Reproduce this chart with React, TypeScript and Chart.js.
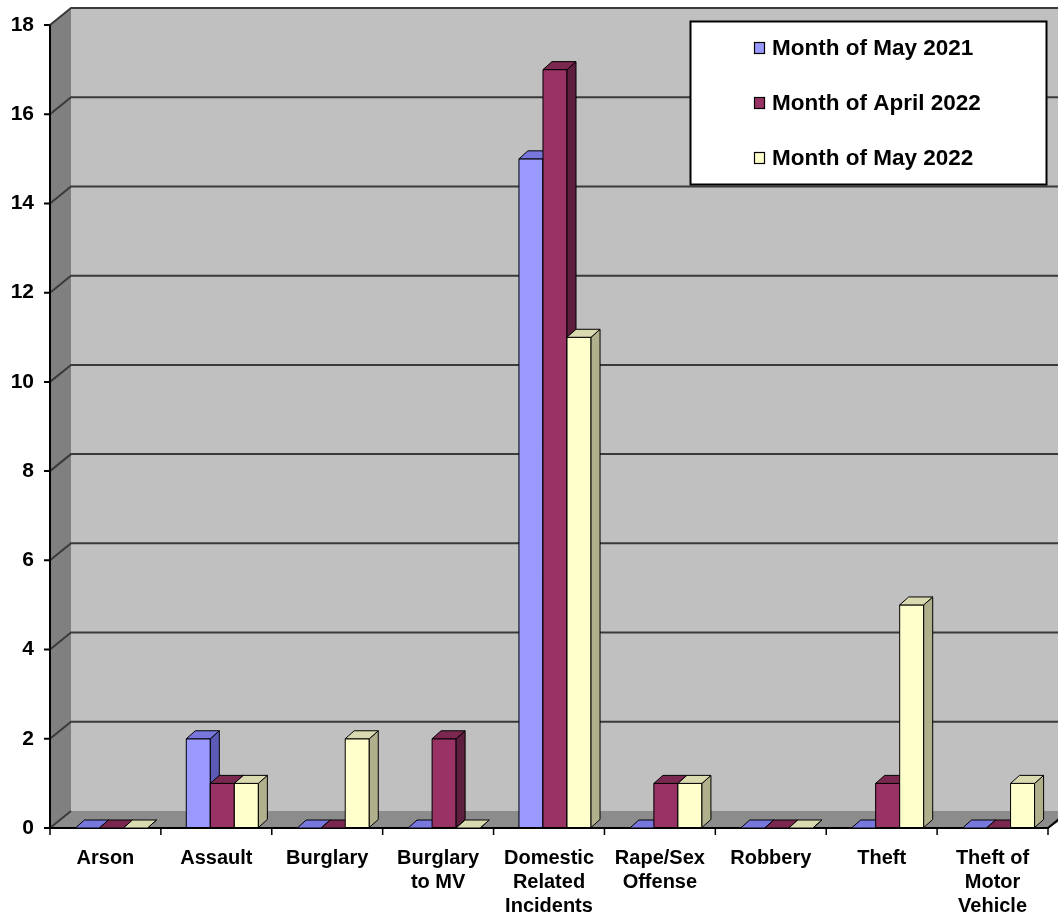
import React, { useEffect, useRef } from "react";
import { Chart, registerables } from "chart.js";

Chart.register(...registerables);

// ---- data ----
const categories: string[][] = [
  ["Arson"],
  ["Assault"],
  ["Burglary"],
  ["Burglary", "to MV"],
  ["Domestic", "Related", "Incidents"],
  ["Rape/Sex", "Offense"],
  ["Robbery"],
  ["Theft"],
  ["Theft of", "Motor", "Vehicle"],
];
const seriesNames = ["Month of May 2021", "Month of April 2022", "Month of May 2022"];
const may2021 = [0, 2, 0, 0, 15, 0, 0, 0, 0];
const april2022 = [0, 1, 0, 2, 17, 1, 0, 1, 0];
const may2022 = [0, 1, 2, 0, 11, 1, 0, 5, 1];
const yMin = 0;
const yMax = 18;
const yStep = 2;

// ---- styles ----
const frontColors = ["#9999FF", "#993366", "#FFFFCC"];
const topColors = ["#7777DD", "#7A2850", "#DADAB0"];
const sideColors = ["#5C5CB8", "#5E1E3E", "#B0B08C"];
const FONT = "'Liberation Sans', Arial, sans-serif";

const FRONT_SHIFT = 6; // bars sit slightly behind the front axis plane
const WDX = 21; // wall depth
const WDY = -17;
const BDX = 9; // bar depth
const BDY = -8;

const threeD = {
  id: "threeD",
  beforeDatasetsDraw(chart: any) {
    const ctx = chart.ctx as CanvasRenderingContext2D;
    const { left, right, top, bottom } = chart.chartArea;
    const ys = chart.scales.y;
    const X0 = left - FRONT_SHIFT;
    const X1 = right - FRONT_SHIFT;
    const W = chart.width;
    ctx.save();
    // back wall
    ctx.fillStyle = "#C0C0C0";
    ctx.fillRect(X0 + WDX, top + WDY, W - (X0 + WDX), bottom - top);
    // left side wall
    ctx.fillStyle = "#808080";
    ctx.beginPath();
    ctx.moveTo(X0, top);
    ctx.lineTo(X0 + WDX, top + WDY);
    ctx.lineTo(X0 + WDX, bottom + WDY);
    ctx.lineTo(X0, bottom);
    ctx.closePath();
    ctx.fill();
    // floor
    ctx.fillStyle = "#8C8C8C";
    ctx.beginPath();
    ctx.moveTo(X0, bottom);
    ctx.lineTo(X0 + WDX, bottom + WDY);
    ctx.lineTo(W + 20, bottom + WDY);
    ctx.lineTo(X1, bottom);
    ctx.closePath();
    ctx.fill();
    // gridlines
    ctx.strokeStyle = "#3A3A3A";
    ctx.lineWidth = 2;
    for (let v = yMin; v <= yMax; v += yStep) {
      const y = ys.getPixelForValue(v);
      ctx.beginPath();
      ctx.moveTo(X0, y);
      ctx.lineTo(X0 + WDX, y + WDY);
      if (v !== yMin) ctx.lineTo(W, y + WDY);
      ctx.stroke();
    }
    // value axis + tick marks
    ctx.strokeStyle = "#000";
    ctx.lineWidth = 2;
    ctx.beginPath();
    ctx.moveTo(X0, top);
    ctx.lineTo(X0, bottom);
    for (let v = yMin; v <= yMax; v += yStep) {
      const y = ys.getPixelForValue(v);
      ctx.moveTo(X0 - 6, y);
      ctx.lineTo(X0, y);
    }
    ctx.stroke();
    // floor front edge
    ctx.beginPath();
    ctx.moveTo(X0, bottom);
    ctx.lineTo(X1, bottom);
    ctx.lineTo(X1 + WDX, bottom + WDY);
    ctx.stroke();
    // category tick marks
    ctx.lineWidth = 1.5;
    ctx.beginPath();
    const n = categories.length;
    for (let i = 0; i <= n; i++) {
      const x = X0 + ((X1 - X0) * i) / n;
      ctx.moveTo(x, bottom);
      ctx.lineTo(x, bottom + 7);
    }
    ctx.stroke();
    ctx.restore();
  },
  afterDatasetsDraw(chart: any) {
    const ctx = chart.ctx as CanvasRenderingContext2D;
    ctx.save();
    ctx.lineWidth = 1;
    ctx.strokeStyle = "#000";
    ctx.lineJoin = "round";
    const n = categories.length;
    for (let c = 0; c < n; c++) {
      for (let d = 0; d < chart.data.datasets.length; d++) {
        const meta = chart.getDatasetMeta(d);
        const el = meta.data[c];
        if (!el) continue;
        const { x, y, base, width } = el.getProps(["x", "y", "base", "width"], true);
        const x0 = x - width / 2;
        const x1 = x + width / 2;
        // front
        ctx.fillStyle = frontColors[d];
        ctx.beginPath();
        ctx.rect(x0, y, width, base - y);
        ctx.fill();
        if (base - y > 0.5) ctx.stroke();
        // side
        ctx.fillStyle = sideColors[d];
        ctx.beginPath();
        ctx.moveTo(x1, y);
        ctx.lineTo(x1 + BDX, y + BDY);
        ctx.lineTo(x1 + BDX, base + BDY);
        ctx.lineTo(x1, base);
        ctx.closePath();
        ctx.fill();
        ctx.stroke();
        // top
        ctx.fillStyle = topColors[d];
        ctx.beginPath();
        ctx.moveTo(x0, y);
        ctx.lineTo(x0 + BDX, y + BDY);
        ctx.lineTo(x1 + BDX, y + BDY);
        ctx.lineTo(x1, y);
        ctx.closePath();
        ctx.fill();
        ctx.stroke();
      }
    }
    ctx.restore();
  },
  afterDraw(chart: any) {
    const ctx = chart.ctx as CanvasRenderingContext2D;
    ctx.save();
    // legend box
    const bx = 690.5, by = 21.5, bw = 356, bh = 163;
    ctx.fillStyle = "#FFFFFF";
    ctx.fillRect(bx, by, bw, bh);
    ctx.strokeStyle = "#000";
    ctx.lineWidth = 2;
    ctx.strokeRect(bx, by, bw, bh);
    const rows = [48, 103, 158];
    ctx.font = `bold 22.5px ${FONT}`;
    ctx.textBaseline = "middle";
    ctx.textAlign = "left";
    chart.data.datasets.forEach((ds: any, i: number) => {
      const cy = rows[i];
      ctx.fillStyle = frontColors[i];
      ctx.fillRect(754.5, cy - 5.5, 10, 11);
      ctx.lineWidth = 1.2;
      ctx.strokeStyle = "#000";
      ctx.strokeRect(754.5, cy - 5.5, 10, 11);
      ctx.fillStyle = "#000";
      ctx.fillText(ds.label, 772, cy + 1);
    });
    ctx.restore();
  },
};

export default function App() {
  const ref = useRef<HTMLCanvasElement | null>(null);
  useEffect(() => {
    if (!ref.current) return;
    const chart = new Chart(ref.current, {
      type: "bar",
      data: {
        labels: categories,
        datasets: [
          { label: seriesNames[0], data: may2021, backgroundColor: frontColors[0] },
          { label: seriesNames[1], data: april2022, backgroundColor: frontColors[1] },
          { label: seriesNames[2], data: may2022, backgroundColor: frontColors[2] },
        ],
      },
      options: {
        responsive: false,
        animation: false,
        layout: { padding: { left: 0, top: 25, right: 4, bottom: 0 } },
        datasets: {
          bar: {
            barPercentage: 1,
            categoryPercentage: 0.65,
            borderWidth: 0,
          },
        },
        plugins: {
          legend: { display: false },
          tooltip: { enabled: false },
        },
        scales: {
          x: {
            grid: {
              display: true,
              drawOnChartArea: false,
              drawTicks: true,
              tickLength: 12,
              color: "rgba(0,0,0,0)",
            },
            border: { display: false },
            ticks: {
              color: "#000",
              font: { family: FONT, size: 20, weight: "bold", lineHeight: 1.2 },
              padding: 6,
              labelOffset: -FRONT_SHIFT,
              maxRotation: 0,
              autoSkip: false,
            },
            afterFit: (s: any) => {
              s.height = 86;
            },
          },
          y: {
            min: yMin,
            max: yMax,
            grid: {
              display: true,
              drawOnChartArea: false,
              drawTicks: true,
              tickLength: 14,
              color: "rgba(0,0,0,0)",
            },
            border: { display: false },
            ticks: {
              stepSize: yStep,
              color: "#000",
              font: { family: FONT, size: 21, weight: "bold" },
              padding: 8,
            },
            afterFit: (s: any) => {
              s.width = 56;
            },
          },
        },
      },
      plugins: [threeD],
    });
    return () => chart.destroy();
  }, []);
  return (
    <canvas
      ref={ref}
      width={1058}
      height={914}
      style={{ position: "absolute", left: 0, top: 0, width: 1058, height: 914 }}
    />
  );
}
